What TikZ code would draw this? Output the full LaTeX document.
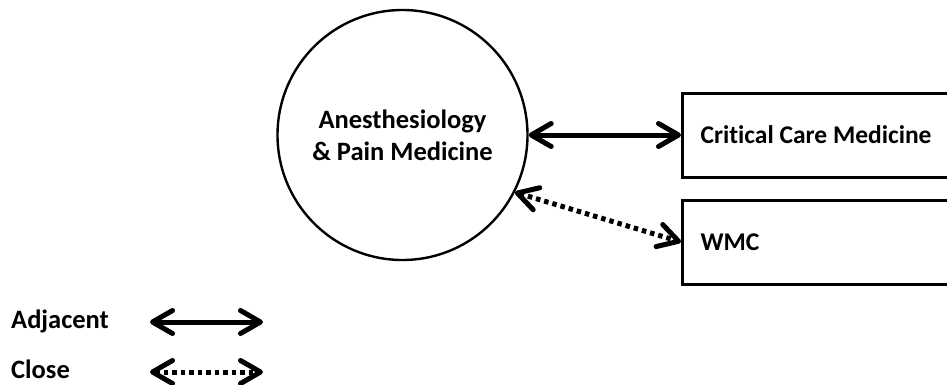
\documentclass[tikz,border=0pt]{standalone}
\usepackage{fontspec}
\setmainfont{Carlito}[Ligatures=NoCommon]
\usetikzlibrary{arrows.meta}
\begin{document}
\begin{tikzpicture}[x=1pt,y=-1pt,
  lbl/.style={font=\bfseries\fontsize{26.5}{32}\selectfont},
  rbox/.style={draw, line width=3pt, anchor=west, minimum width=290pt, minimum height=84pt,
    inner xsep=18pt, font=\bfseries\fontsize{25.5}{31}\selectfont},
  tipb/.style={{Straight Barb[length=20pt,width=23pt,round]}-{Straight Barb[length=20pt,width=23pt,round]}},
  adj/.style={line width=5pt, tipb},
  cls/.style={line width=5pt, tipb, dash pattern=on 4.5pt off 4pt}]
\clip (0,0) rectangle (947,384);
\node[draw, circle, line width=2.4pt, minimum size=250pt, inner sep=0pt, align=center, lbl] (circ) at (402.5,135)
  {Anesthesiology\\ \& Pain Medicine};
\node[rbox] (cc) at (681,135) {\makebox[254pt][l]{Critical Care Medicine}};
\node[rbox] (wmc) at (681,242) {\makebox[254pt][l]{WMC}};
\draw[adj] (circ.east) -- (cc.west);
\draw[cls] (circ.-27) -- (wmc.west);
\node[lbl, anchor=base west, inner sep=0pt] (ladj) at (11,328) {Adjacent};
\node[lbl, anchor=base west, inner sep=0pt] (lcls) at (11,378) {Close};
\coordinate (a1) at (150,322);
\coordinate (a2) at (263,322);
\coordinate (c1) at (150,372);
\coordinate (c2) at (263,372);
\draw[adj] (a1) -- (a2);
\draw[cls] (c1) -- (c2);
\end{tikzpicture}
\end{document}
